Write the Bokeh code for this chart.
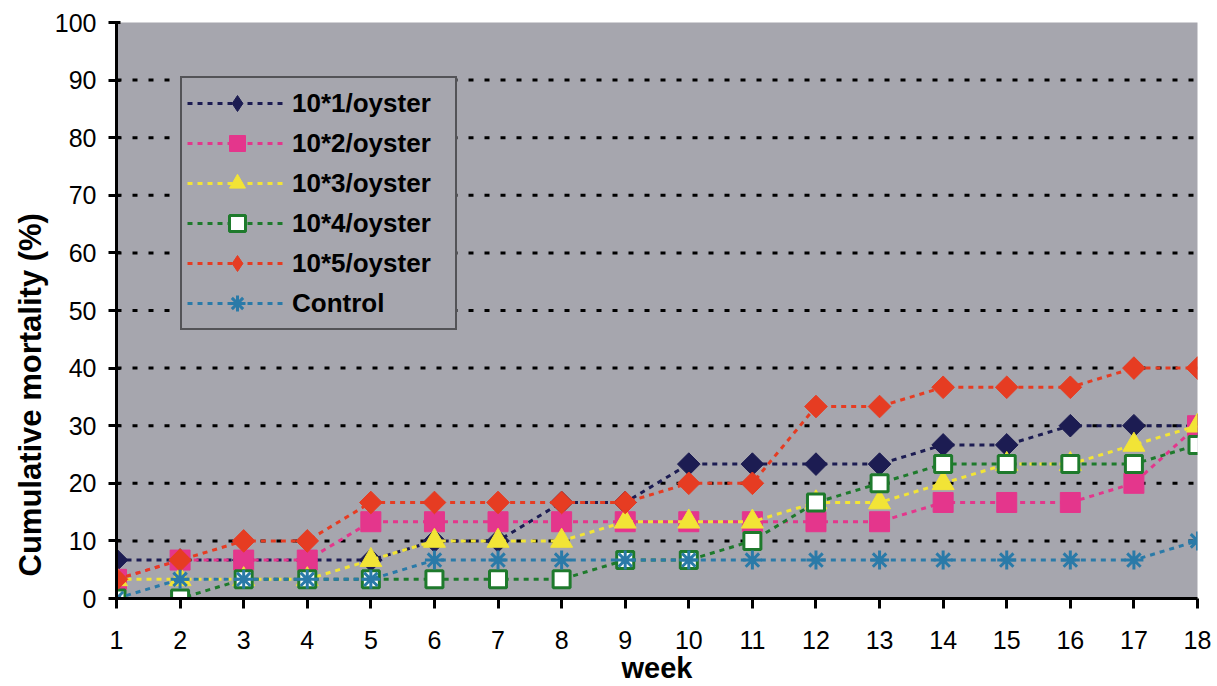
import math
from bokeh.plotting import figure
from bokeh.models import Range1d, Legend, LegendItem, FixedTicker, Span, Title
from bokeh.embed import file_html
from bokeh.resources import INLINE

weeks = list(range(1, 19))
series_names = ["10*1/oyster", "10*2/oyster", "10*3/oyster", "10*4/oyster", "10*5/oyster", "Control"]
s1 = [6.67, 6.67, 6.67, 6.67, 6.67, 10, 10, 16.67, 16.67, 23.33, 23.33, 23.33, 23.33, 26.67, 26.67, 30, 30, 30]
s2 = [3.33, 6.67, 6.67, 6.67, 13.33, 13.33, 13.33, 13.33, 13.33, 13.33, 13.33, 13.33, 13.33, 16.67, 16.67, 16.67, 20, 30]
s3 = [3.33, 3.33, 3.33, 3.33, 6.67, 10, 10, 10, 13.33, 13.33, 13.33, 16.67, 16.67, 20, 23.33, 23.33, 26.67, 30]
s4 = [0, 0, 3.33, 3.33, 3.33, 3.33, 3.33, 3.33, 6.67, 6.67, 10, 16.67, 20, 23.33, 23.33, 23.33, 23.33, 26.67]
s5 = [3.33, 6.67, 10, 10, 16.67, 16.67, 16.67, 16.67, 16.67, 20, 20, 33.33, 33.33, 36.67, 36.67, 36.67, 40, 40]
control = [0, 3.33, 3.33, 3.33, 3.33, 6.67, 6.67, 6.67, 6.67, 6.67, 6.67, 6.67, 6.67, 6.67, 6.67, 6.67, 6.67, 10]
y_ticks = [0, 10, 20, 30, 40, 50, 60, 70, 80, 90, 100]
x_title = "week"
y_title = "Cumulative mortality (%)"

FONT = "Liberation Sans"
BG = "#a6a6ae"
NAN = float("nan")

p = figure(width=1217, height=686, output_backend="svg", toolbar_location=None,
           x_range=Range1d(1, 18), y_range=Range1d(0, 100),
           min_border_left=116, min_border_right=20, min_border_top=22, min_border_bottom=86)
p.background_fill_color = BG
p.border_fill_color = "white"
p.outline_line_color = None
p.xgrid.visible = False
p.ygrid.visible = False

# dotted horizontal grid
for v in y_ticks[1:-1]:
    p.add_layout(Span(location=v, dimension="width", line_color="black",
                      line_width=3, line_dash="5 11", level="underlay"))

D = math.pi / 4
styles = [
    dict(color="#1c1c52", marker="square", size=16, angle=D, fill="#1c1c52", lw=1, leg="diamond"),
    dict(color="#e4368c", marker="square", size=20, angle=0, fill="#e4368c", lw=1, leg="square"),
    dict(color="#f2e436", marker="triangle", size=22, angle=0, fill="#f2e436", lw=1, leg="triangle"),
    dict(color="#1e7a2c", marker="square", size=17, angle=0, fill="white", lw=3, leg="square"),
    dict(color="#e63c22", marker="square", size=16, angle=D, fill="#e63c22", lw=1, leg="diamond"),
    dict(color="#2a7aa8", marker="asterisk", size=19, angle=0, fill="#2a7aa8", lw=3, leg="asterisk"),
]
data = [s1, s2, s3, s4, s5, control]

items = []
for name, vals, st in zip(series_names, data, styles):
    ln = p.line(weeks, vals, line_color=st["color"], line_width=3, line_dash="5 5")
    sc = p.scatter(weeks, vals, marker=st["marker"], size=st["size"], angle=st["angle"],
                   fill_color=st["fill"], line_color=st["color"], line_width=st["lw"])
    if st["angle"]:
        leg_r = p.scatter([NAN], [NAN], marker=st["leg"], size=st["size"],
                          fill_color=st["fill"], line_color=st["color"], line_width=st["lw"])
        items.append(LegendItem(label=name, renderers=[ln, leg_r]))
    else:
        items.append(LegendItem(label=name, renderers=[ln, sc]))

legend = Legend(items=items, location=(64, 268), background_fill_color=BG,
                background_fill_alpha=1.0, border_line_color="black", border_line_width=2,
                label_text_font=FONT, label_text_font_style="bold", label_text_font_size="26px",
                label_text_color="black",
                glyph_width=100, glyph_height=40, label_height=40, label_width=158,
                spacing=0, padding=5, label_standoff=5, margin=0)
p.add_layout(legend, "center")

p.xaxis.ticker = FixedTicker(ticks=weeks)
p.yaxis.ticker = FixedTicker(ticks=y_ticks)
for ax in (p.xaxis[0], p.yaxis[0]):
    ax.axis_line_color = "black"
    ax.axis_line_width = 3
    ax.major_tick_line_color = "black"
    ax.major_tick_line_width = 3
    ax.minor_tick_line_color = None
    ax.major_label_text_font = FONT
    ax.major_label_text_font_size = "25px"
    ax.major_label_text_color = "black"
    ax.axis_label_text_font = FONT
    ax.axis_label_text_font_style = "bold"
    ax.axis_label_text_color = "black"
p.xaxis.major_tick_out = 10
p.xaxis.major_tick_in = 0
p.yaxis.major_tick_out = 8
p.yaxis.major_tick_in = 4
p.xaxis.major_label_standoff = 22
p.yaxis.major_label_standoff = 12
p.xaxis.axis_label = x_title
p.xaxis.axis_label_text_font_size = "29px"
p.xaxis.axis_label_standoff = 0

# y-axis title, placed lower than centre as in the reference
p.add_layout(Title(text=y_title, align="left", offset=22, standoff=8,
                   text_font=FONT, text_font_style="bold", text_font_size="31px",
                   text_color="black"), "left")

open("out.html", "w").write(file_html(p, INLINE))
